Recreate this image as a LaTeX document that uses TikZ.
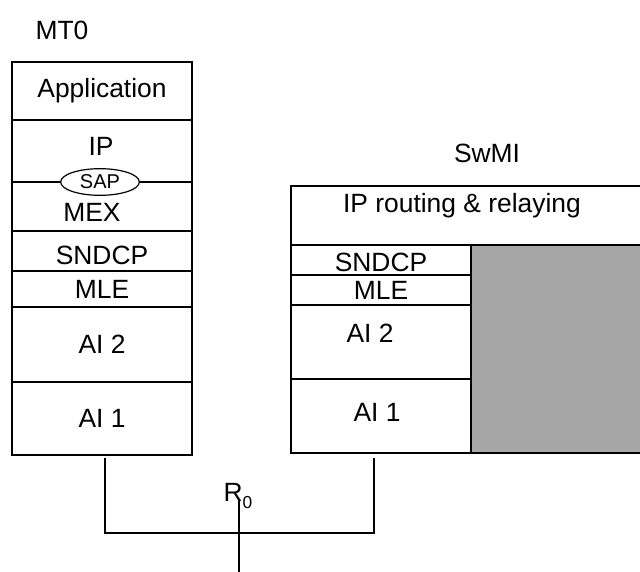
\documentclass[tikz,border=0pt]{standalone}
\usepackage{fontspec}
\setmainfont{Liberation Sans}
\usetikzlibrary{fit, positioning, shapes.geometric}
\definecolor{relaygray}{RGB}{166,166,166}

\begin{document}
\begin{tikzpicture}[x=0.75pt, y=-0.75pt, line width=1.5pt,
    font=\fontsize{19.8}{22}\selectfont,
    layer/.style={draw, inner sep=0pt, fit={#1}}]
            \useasboundingbox (0,0) rectangle (640,572);
            \clip (0,0) rectangle (640,572);
            \node (mtname) at (62,30) {MT0};
            \node[layer={(12,62) (192,120)}, label=center:Application] (app) {};
            \node[layer={(12,120) (192,182)}] (ip) {};
            \node[layer={(12,182) (192,231)}] (mex) {};
            \node[layer={(12,231) (192,271)}, label={[yshift=-3pt]center:SNDCP}] (sndcp) {};
            \node[layer={(12,271) (192,307)}, label=center:MLE] (mle) {};
            \node[layer={(12,307) (192,382)}, label=center:AI 2] (aitwo) {};
            \node[layer={(12,382) (192,455)}, label=center:AI 1] (aione) {};
            \node (iptext) at (101,146) {IP};
            \node (mextext) at (92,212) {MEX};
            \node[ellipse, draw, fill=white, line width=0.9pt, inner sep=0pt,
                  minimum width=59pt, minimum height=20pt,
                  font=\fontsize{15}{17}\selectfont] (sap) at (100,182) {SAP};

            \node (swname) at (487,153) {SwMI};
            \node[layer={(291,186) (660,245)}] (routing) {};
            \node (routingtext) at (462,206) {IP routing \& relaying};
            \node[layer={(291,245) (471,275)}, label={[yshift=-2pt]center:SNDCP}] (swsndcp) {};
            \node[layer={(291,275) (471,305)}, label=center:MLE] (swmle) {};
            \node[layer={(291,305) (471,379)}] (swaitwo) {};
            \node[layer={(291,379) (471,453)}, label={[xshift=-3pt,yshift=3pt]center:AI 1}] (swaione) {};
            \node (swaitwotext) at (370,333) {AI 2};
            \node[layer={(471,245) (660,453)}, fill=relaygray] (relay) {};

            \coordinate (mtport) at (105,458);
            \coordinate (swport) at (374,458);
            \coordinate (bus) at (239,533);
            \coordinate (iftop) at (239,500);
            \coordinate (ifbottom) at (239,580);
            \node (rzero) at (238,496) {R\raisebox{-5pt}{\fontsize{13}{14}\selectfont 0}};
            \draw (mtport) |- (bus) -| (swport);
            \draw (iftop) -- (ifbottom);
        \end{tikzpicture}
\end{document}
